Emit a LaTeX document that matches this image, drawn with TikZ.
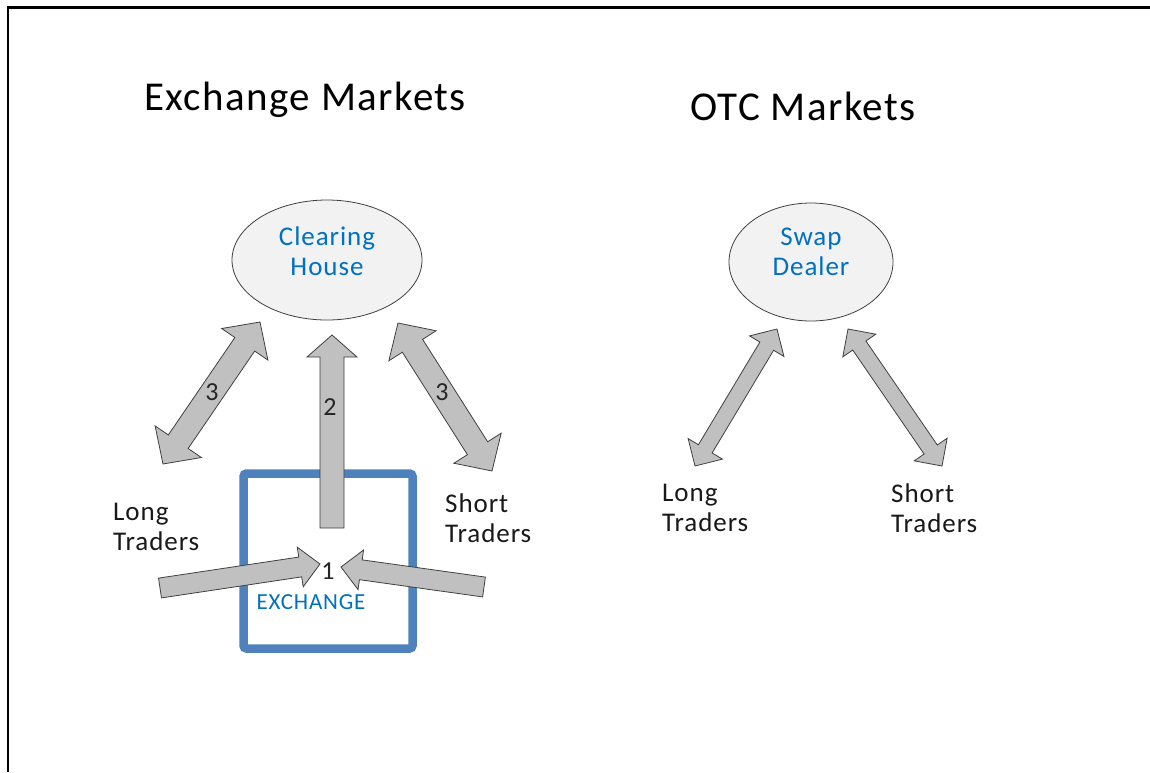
\documentclass[tikz,border=0pt]{standalone}
\usepackage{fontspec}
\setmainfont{Carlito}[LetterSpace=3.5]
\usetikzlibrary{calc,shapes.geometric}
\definecolor{arrowgray}{HTML}{C0C0C0}
\definecolor{arrowline}{HTML}{404040}
\definecolor{ellfill}{HTML}{F2F2F2}
\definecolor{txtblue}{HTML}{0070C0}
\definecolor{boxblue}{HTML}{4F81BD}
\tikzset{
  blockarrow/.style={fill=arrowgray, draw=arrowline, line width=0.8pt, line join=miter},
  bubble/.style={ellipse, fill=ellfill, draw=arrowline, line width=0.8pt, inner sep=0pt},
  bubbletext/.style={text=txtblue, align=center, font=\fontsize{27}{30}\selectfont, inner sep=0pt},
  title/.style={font=\fontsize{41}{46}\selectfont, inner sep=0pt},
  trader/.style={font=\fontsize{27}{30}\selectfont, align=left, anchor=west, inner sep=0pt, text=black!90},
  num/.style={font=\fontsize{26}{28}\selectfont, inner sep=0pt, text=black!85},
}
% double block arrow: #1 end A, #2 end B, #3 shaft half width, #4 head half width, #5 head length
\newcommand\dblarrow[5]{%
  \coordinate (#1-a) at ($(#1)!#5!(#2)$);
  \coordinate (#2-b) at ($(#2)!#5!(#1)$);
  \path[blockarrow] (#1)
   -- ($(#1-a)!#4!90:(#2)$) -- ($(#1-a)!#3!90:(#2)$)
   -- ($(#2-b)!#3!-90:(#1)$) -- ($(#2-b)!#4!-90:(#1)$)
   -- (#2)
   -- ($(#2-b)!#4!90:(#1)$) -- ($(#2-b)!#3!90:(#1)$)
   -- ($(#1-a)!#3!-90:(#2)$) -- ($(#1-a)!#4!-90:(#2)$) -- cycle;}
% single block arrow: #1 tail, #2 tip
\newcommand\sglarrow[5]{%
  \coordinate (#2-b) at ($(#2)!#5!(#1)$);
  \path[blockarrow] ($(#1)!#3!90:(#2)$)
   -- ($(#2-b)!#3!-90:(#1)$) -- ($(#2-b)!#4!-90:(#1)$)
   -- (#2)
   -- ($(#2-b)!#4!90:(#1)$) -- ($(#2-b)!#3!90:(#1)$)
   -- ($(#1)!#3!-90:(#2)$) -- cycle;}
\begin{document}
\begin{tikzpicture}[x=1pt,y=-1pt]
\useasboundingbox (0,0) rectangle (1150,772);
\fill[white] (0,0) rectangle (1150,772);
\draw[line width=2.5pt] (8,772) -- (8,7.3) -- (1150,7.3);

% titles
\node[title] (t1) at (305,100) {Exchange Markets};
\node[title] (t2) at (803,106) {OTC Markets};

% bubbles
\node[bubble, minimum width=190pt, minimum height=120pt] (ch) at (327,260) {};
\node[bubbletext] (cht) at (327,251) {Clearing\\House};
\node[bubble, minimum width=164pt, minimum height=118pt] (sd) at (811,262) {};
\node[bubbletext] (sdt) at (811,252) {Swap\\Dealer};

% exchange box
\node[draw=boxblue, line width=8.5pt, rounded corners=3pt, minimum width=169pt, minimum height=175pt, inner sep=0pt] (ex) at (328,561) {};
\node[text=txtblue, font=\fontsize{23}{25}\selectfont, inner sep=0pt] (exl) at (311,602) {EXCHANGE};

% arrow end points
\coordinate (L3a) at (163,464); \coordinate (L3b) at (260,322);
\coordinate (R3a) at (398,323); \coordinate (R3b) at (492,471);
\coordinate (V2a) at (332,528); \coordinate (V2b) at (332,335);
\coordinate (L1a) at (160,588); \coordinate (L1b) at (320,564);
\coordinate (R1a) at (484,587); \coordinate (R1b) at (341,567);
\coordinate (OLa) at (695,466); \coordinate (OLb) at (777,329);
\coordinate (ORa) at (848,329); \coordinate (ORb) at (942,466);

\dblarrow{L3a}{L3b}{12pt}{28pt}{27pt}
\dblarrow{R3a}{R3b}{12pt}{28pt}{27pt}
\sglarrow{V2a}{V2b}{12pt}{25pt}{22pt}
\sglarrow{L1a}{L1b}{10pt}{20pt}{20pt}
\sglarrow{R1a}{R1b}{10pt}{20pt}{20pt}
\dblarrow{OLa}{OLb}{8pt}{20pt}{20pt}
\dblarrow{ORa}{ORb}{8pt}{20pt}{20pt}

% numbers
\node[num] (n3l) at (212,392) {3};
\node[num] (n3r) at (442,392) {3};
\node[num] (n2) at (330,407) {2};
\node[num] (n1) at (328,571) {1};

% traders
\node[trader] (lt1) at (113,527) {Long\\Traders};
\node[trader] (st1) at (445,518) {Short\\Traders};
\node[trader] (lt2) at (662,508) {Long\\Traders};
\node[trader] (st2) at (891,508) {Short\\Traders};
\end{tikzpicture}
\end{document}
